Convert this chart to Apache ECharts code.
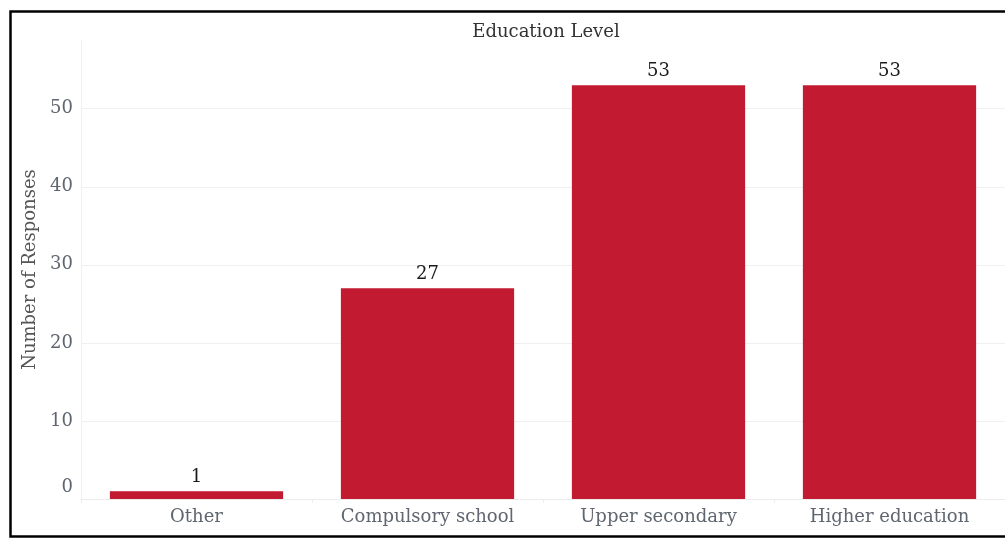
<!DOCTYPE html>
<html>
<head>
<meta charset="utf-8">
<title>Education Level</title>
<script src="https://cdn.jsdelivr.net/npm/echarts@6/dist/echarts.min.js"></script>
<style>
  html, body { margin: 0; padding: 0; background: #ffffff; }
  #chart { width: 1005px; height: 540px; }
</style>
</head>
<body>
<div id="chart"></div>
<script>
// Survey responses by highest education level
const categories = ['Other', 'Compulsory school', 'Upper secondary', 'Higher education'];
const responses = [1, 27, 53, 53];
const yTicks = [0, 10, 20, 30, 40, 50];

const FONT = '"DejaVu Serif", "Liberation Serif", serif';
const BAR_COLOR = '#c21b31';
const GRID_COLOR = '#f0f0f0';

const chart = echarts.init(document.getElementById('chart'), null, { renderer: 'canvas' });

chart.setOption({
  backgroundColor: '#ffffff',
  animation: false,
  title: {
    text: 'Education Level',
    left: 541,
    textAlign: 'center',
    top: 18,
    textStyle: { fontFamily: FONT, fontSize: 18, fontWeight: 'normal', color: '#333333' }
  },
  grid: { left: 81, top: 40, width: 925, bottom: 41, containLabel: false },
  xAxis: {
    type: 'category',
    data: categories,
    axisLine: { show: true, lineStyle: { color: '#ececec', width: 1 } },
    axisTick: { show: true, length: 4, lineStyle: { color: '#ececec' } },
    axisLabel: { fontFamily: FONT, fontSize: 18, color: '#5f6670', margin: 9 }
  },
  yAxis: {
    type: 'value',
    min: 0,
    max: 58.8,
    interval: 10,
    name: 'Number of Responses',
    nameLocation: 'middle',
    nameGap: 39,
    nameTextStyle: { fontFamily: FONT, fontSize: 18, color: '#555555' },
    axisLine: { show: true, lineStyle: { color: '#f0f0f0', width: 1 } },
    axisTick: { show: false },
    splitLine: { show: true, showMaxLine: false, lineStyle: { color: GRID_COLOR, width: 1 } },
    axisLabel: {
      showMaxLabel: false,
      margin: 8,
      fontFamily: FONT,
      fontSize: 18,
      color: '#5f6670',
      formatter: function (v) {
        if (yTicks.indexOf(v) < 0) return '';
        return v === 0 ? '{z|0}' : String(v);
      },
      rich: {
        z: { fontFamily: FONT, fontSize: 18, color: '#5f6670', padding: [0, 0, 24, 0] }
      }
    }
  },
  series: [{
    type: 'bar',
    data: responses,
    barCategoryGap: '25%',
    itemStyle: { color: BAR_COLOR },
    label: {
      show: true,
      position: 'top',
      distance: 5,
      fontFamily: FONT,
      fontSize: 18,
      color: '#1a1a1a'
    }
  }],
  graphic: [{
    type: 'rect',
    silent: true,
    z: 100,
    shape: { x: 10.5, y: 11.5, width: 1100, height: 525 },
    style: { fill: 'none', stroke: '#000000', lineWidth: 2.5 }
  }]
});
</script>
</body>
</html>
